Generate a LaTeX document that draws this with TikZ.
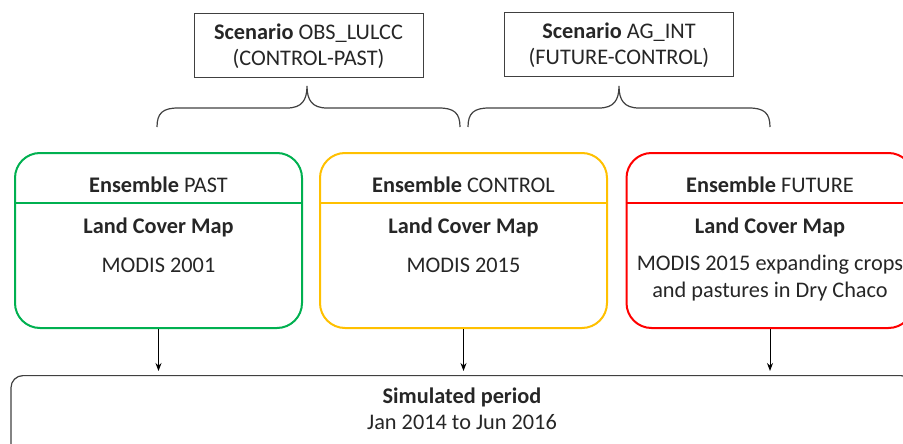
\documentclass[tikz,border=0pt]{standalone}
\usepackage{fontspec}
\setmainfont{Carlito}
\usetikzlibrary{arrows.meta,calc}
\definecolor{cgreen}{RGB}{0,176,80}
\definecolor{cgold}{RGB}{255,192,0}
\definecolor{cred}{RGB}{255,0,0}
\definecolor{cline}{RGB}{64,64,64}
\begin{document}
\begin{tikzpicture}[x=1pt,y=-1pt,
  every node/.style={font=\fontsize{22.3}{26.5}\selectfont, text=black!85},
  ensbox/.style={draw, line width=2pt, rounded corners=25pt, minimum width=287pt, minimum height=175pt, inner sep=0pt},
  scenbox/.style={draw=cline, line width=1pt, minimum width=229pt, minimum height=64pt, align=center, inner sep=0pt},
  simbox/.style={draw=cline, line width=1.2pt, rounded corners=12pt, minimum width=902pt, minimum height=100pt, inner sep=0pt},
  brace/.style={draw=cline, line width=1.2pt},
  arr/.style={draw=black, line width=1pt, -{Stealth[length=8pt,width=6pt]}, shorten >=4pt},
  divider/.style={line width=1.2pt}
]
\clip (0,0) rectangle (903,444);
\useasboundingbox (0,0) rectangle (903,444);

% scenario boxes
\node[scenbox] (s1) at (308.5,46) {\textbf{Scenario} OBS\_LULCC\\(CONTROL-PAST)};
\node[scenbox] (s2) at (619,45) {\textbf{Scenario} AG\_INT\\(FUTURE-CONTROL)};

% braces
\draw[brace] (157,127) .. controls (157,113) and (163,108) .. (178,108) -- (287,108)
  .. controls (302,108) and (307,100) .. (307,86)
  .. controls (307,100) and (312,108) .. (327,108) -- (439,108)
  .. controls (454,108) and (460,113) .. (460,127);
\draw[brace] (468,127) .. controls (468,113) and (474,108) .. (489,108) -- (599,108)
  .. controls (614,108) and (619,100) .. (619,86)
  .. controls (619,100) and (624,108) .. (639,108) -- (749,108)
  .. controls (764,108) and (770,113) .. (770,127);

% ensemble boxes
\node[ensbox, draw=cgreen] (past) at (158.5,240.5) {};
\node[ensbox, draw=cgold] (ctrl) at (463.5,240.5) {};
\node[ensbox, draw=cred] (fut) at (770,240.5) {};

\draw[divider, draw=cgreen] ($(past.north west)+(0,51)$) -- ($(past.north east)+(0,51)$);
\draw[divider, draw=cgold] ($(ctrl.north west)+(0,51)$) -- ($(ctrl.north east)+(0,51)$);
\draw[divider, draw=cred] ($(fut.north west)+(0,51)$) -- ($(fut.north east)+(0,51)$);

\node (pastT) at (158.5,185) {\textbf{Ensemble} PAST};
\node (pastL) at (158.5,227) {\textbf{Land Cover Map}};
\node (pastM) at (158.5,265) {MODIS 2001};

\node (ctrlT) at (463.5,185) {\textbf{Ensemble} CONTROL};
\node (ctrlL) at (463.5,227) {\textbf{Land Cover Map}};
\node (ctrlM) at (463.5,265) {MODIS 2015};

\node (futT) at (770,185) {\textbf{Ensemble} FUTURE};
\node (futL) at (770,227) {\textbf{Land Cover Map}};
\node[align=center] (futM) at (770,278) {MODIS 2015 expanding crops\\and pastures in Dry Chaco};

% simulated period
\node[simbox, anchor=north] (sim) at (462,375) {};
\node[align=center] (simT) at (462,409) {\textbf{Simulated period}\\Jan 2014 to Jun 2016};

% arrows
\draw[arr] (past.south) -- (past.south |- sim.north);
\draw[arr] (ctrl.south) -- (ctrl.south |- sim.north);
\draw[arr] (fut.south) -- (fut.south |- sim.north);
\end{tikzpicture}
\end{document}
